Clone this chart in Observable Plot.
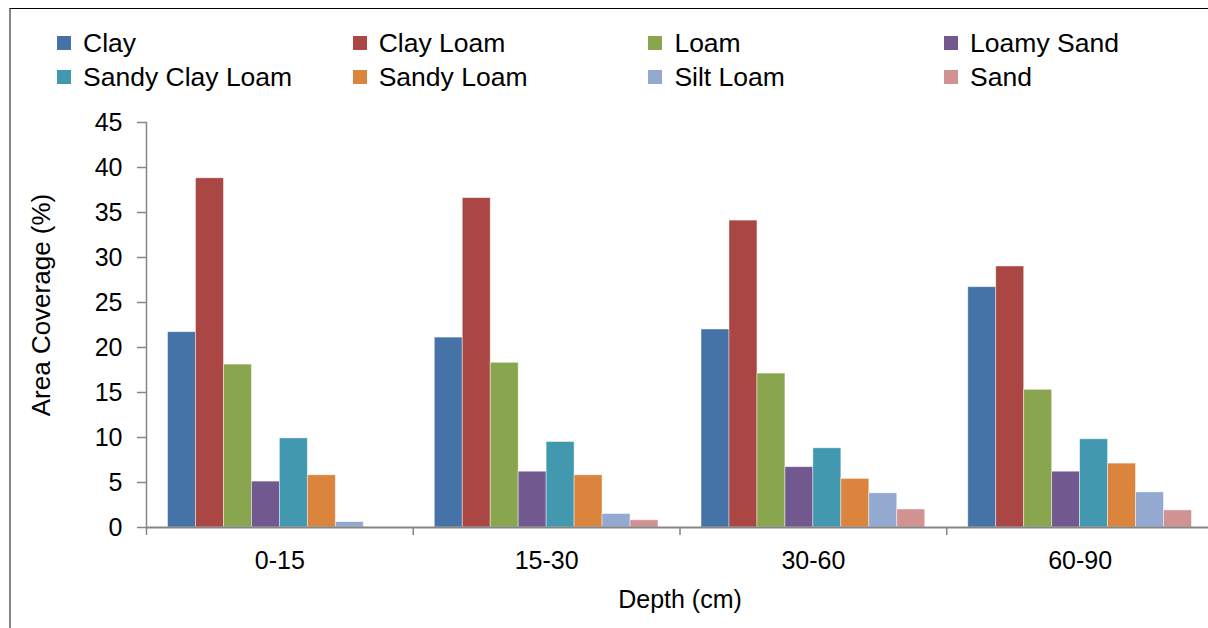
<!DOCTYPE html>
<html>
<head>
<meta charset="utf-8">
<script src="https://cdn.jsdelivr.net/npm/d3@7"></script>
<script src="https://cdn.jsdelivr.net/npm/@observablehq/plot@0.6"></script>
<style>
  html, body { margin: 0; padding: 0; background: #fff; }
  body { width: 1208px; height: 628px; overflow: hidden; position: relative;
         font-family: "Liberation Sans", Arial, sans-serif; }
  #frame { position: absolute; left: 9px; top: 8px; width: 1220px; height: 640px;
           border-top: 1.5px solid #000; border-left: 2px solid #858585; box-sizing: border-box; }
  #legend { position: absolute; left: 0; top: 0; width: 1208px; height: 100px; }
  .item { position: absolute; display: flex; align-items: center; height: 30px;
          font-size: 26.5px; color: #000; white-space: nowrap; }
  .swatch { width: 14px; height: 14px; margin-right: 12px; }
  #chart { position: absolute; left: 0; top: 100px; }
</style>
</head>
<body>
<div id="frame"></div>
<div id="legend"></div>
<div id="chart"></div>
<script>
// Soil depth classes (cm) and texture classes
const depths = ["0-15", "15-30", "30-60", "60-90"];
const soils = ["Clay", "Clay Loam", "Loam", "Loamy Sand", "Sandy Clay Loam", "Sandy Loam", "Silt Loam", "Sand"];
const colors = ["#4572A7", "#AA4643", "#89A54E", "#71588F", "#4198AF", "#DB843D", "#93A9CF", "#D19392"];

// Area coverage (%) of each texture class, per depth
const clay          = [21.7, 21.1, 22.0, 26.7];
const clayLoam      = [38.8, 36.6, 34.1, 29.0];
const loam          = [18.1, 18.3, 17.1, 15.3];
const loamySand     = [5.1, 6.2, 6.7, 6.2];
const sandyClayLoam = [9.9, 9.5, 8.8, 9.8];
const sandyLoam     = [5.8, 5.8, 5.4, 7.1];
const siltLoam      = [0.6, 1.5, 3.8, 3.9];
const sand          = [0.0, 0.8, 2.0, 1.9];

const yTicks = [0, 5, 10, 15, 20, 25, 30, 35, 40, 45];
const yTitle = "Area Coverage (%)";
const xTitle = "Depth (cm)";

const series = [clay, clayLoam, loam, loamySand, sandyClayLoam, sandyLoam, siltLoam, sand];
const rows = [];
soils.forEach((soil, i) => depths.forEach((depth, j) => rows.push({depth, soil, value: series[i][j]})));

// Legend: four columns, two rows
const legend = document.getElementById("legend");
soils.forEach((soil, i) => {
  const col = i % 4, row = Math.floor(i / 4);
  const el = document.createElement("div");
  el.className = "item";
  el.style.left = (57 + col * 295.7) + "px";
  el.style.top = (28 + row * 34) + "px";
  el.innerHTML = `<span class="swatch" style="background:${colors[i]}"></span><span>${soil}</span>`;
  legend.appendChild(el);
});

const width = 1220, marginLeft = 146, marginRight = 7;
const groupWidth = (width - marginLeft - marginRight) / depths.length;
const axisGray = "#868686";

const chart = Plot.plot({
  width,
  height: 528,
  marginLeft,
  marginRight,
  marginTop: 22,
  marginBottom: 101,
  style: {fontFamily: "'Liberation Sans', Arial, sans-serif", fontSize: "25px", color: "#000",
          background: "transparent", overflow: "visible", maxWidth: "none"},
  fx: {domain: depths, padding: 0, round: false},
  x: {domain: soils, paddingInner: 0, paddingOuter: 0.77, round: false, axis: null},
  y: {domain: [0, 45]},
  color: {domain: soils, range: colors},
  marks: [
    Plot.barY(rows, {fx: "depth", x: "soil", y: "value", fill: "soil", stroke: "#fff", strokeOpacity: 0.55, strokeWidth: 0.8}),
    Plot.ruleY([0], {stroke: axisGray, strokeWidth: 2}),
    Plot.frame({anchor: "left", facetAnchor: "left", stroke: axisGray, strokeWidth: 1.5}),
    Plot.axisY({ticks: yTicks, tickSize: 9, tickPadding: 15, stroke: axisGray, strokeWidth: 1.5, strokeOpacity: 1,
                label: null, fontSize: 25}),
    // vertical axis title, left of the tick labels
    Plot.text([yTitle], {frameAnchor: "left", facetAnchor: "left", rotate: -90, dx: -105, dy: -20,
                         textAnchor: "middle", lineAnchor: "middle", fontSize: 26, fill: "#000"}),
    // group boundary ticks
    Plot.axisFx({anchor: "bottom", tickSize: 8, tickFormat: () => "", dx: -groupWidth / 2, stroke: axisGray,
                 strokeWidth: 1.5, strokeOpacity: 1, label: null}),
    Plot.axisFx({anchor: "bottom", tickSize: 0, tickPadding: 24, label: xTitle, labelAnchor: "center",
                 labelArrow: "none", labelOffset: 80, fontSize: 25})
  ]
});
document.getElementById("chart").appendChild(chart);
</script>
</body>
</html>
